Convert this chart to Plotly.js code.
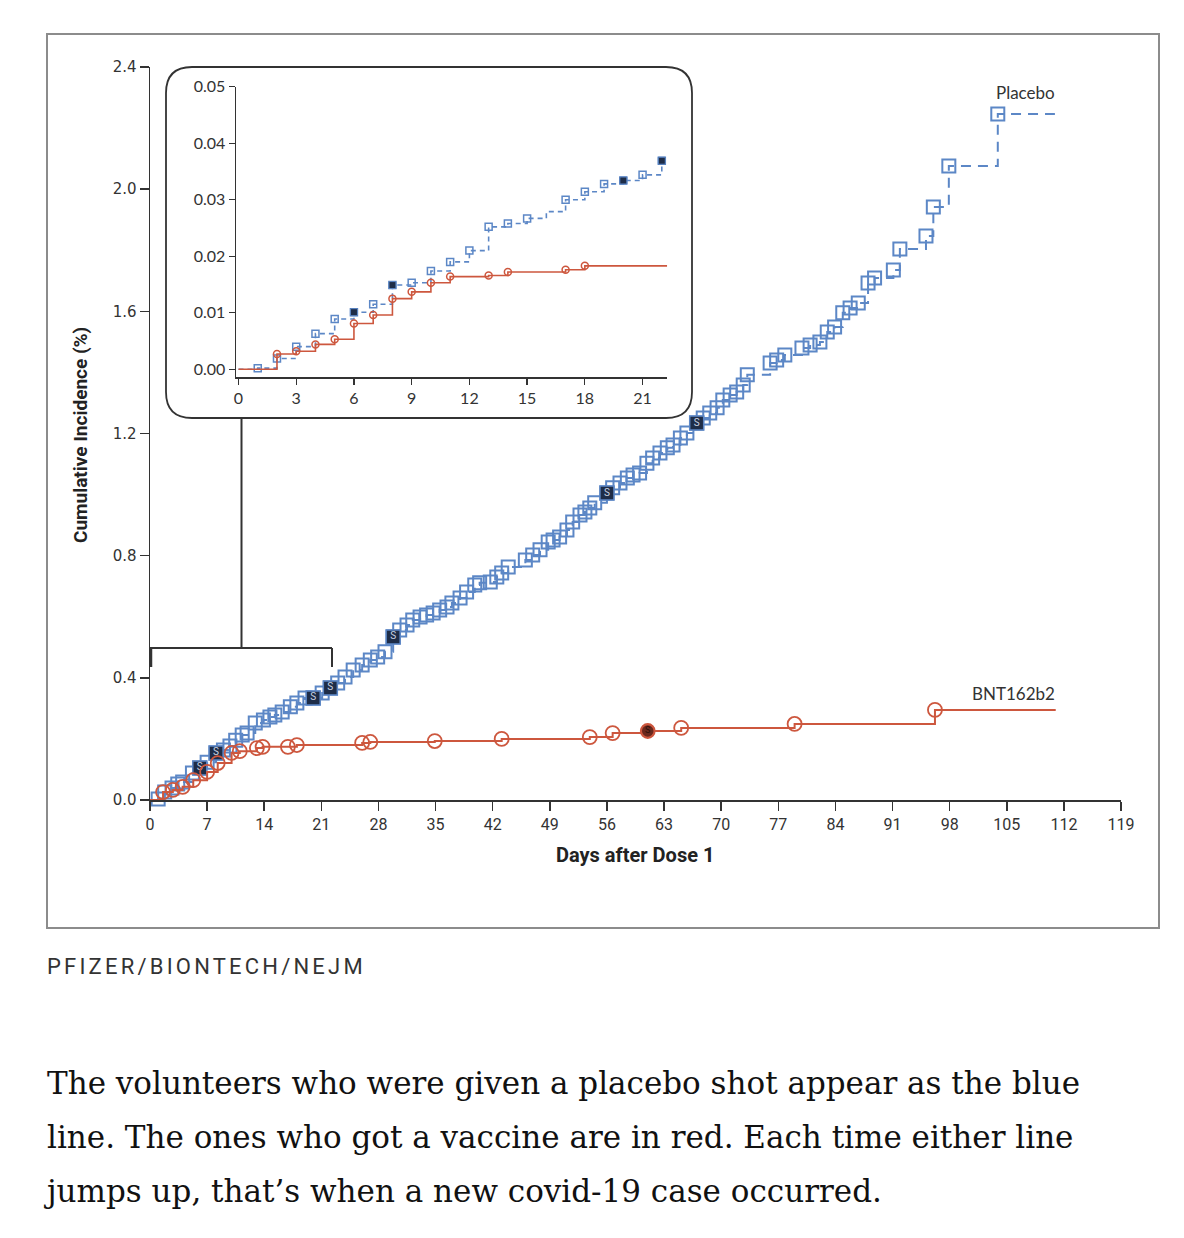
<!DOCTYPE html>
<html><head><meta charset="utf-8">
<script src="https://cdn.plot.ly/plotly-3.0.1.min.js"></script>
<style>
html,body{margin:0;padding:0;background:#fff;}
#wrap{position:relative;width:1184px;height:1238px;overflow:hidden;}
#chart{position:absolute;left:0;top:0;width:1184px;height:1238px;}
.credit{position:absolute;left:47px;top:954px;font-family:Roboto,'Noto Sans',sans-serif;font-size:22px;letter-spacing:3.2px;color:#333;white-space:nowrap;}
.cap{position:absolute;left:47px;font-family:'DejaVu Serif',serif;font-size:31px;color:#111;white-space:nowrap;line-height:40px;}
</style></head>
<body><div id="wrap"><div id="chart"></div>
<div class="credit">PFIZER/BIONTECH/NEJM</div>
<div class="cap" style="top:1063px">The volunteers who were given a placebo shot appear as the blue</div>
<div class="cap" style="top:1117px">line. The ones who got a vaccine are in red. Each time either line</div>
<div class="cap" style="top:1171px">jumps up, that’s when a new covid-19 case occurred.</div>
</div>
<script>
// ---------- DATA ----------
const xTicks = [0,7,14,21,28,35,42,49,56,63,70,77,84,91,98,105,112,119];
const yTicks = [0,0.4,0.8,1.2,1.6,2.0,2.4];
const insetXTicks = [0,3,6,9,12,15,18,21];
const insetYTicks = [0,0.01,0.02,0.03,0.04,0.05];

const placeboDays = [1.0,1.8,2.7,3.4,4.0,5.2,6.1,7.0,8.1,9.0,
  9.8,10.5,11.3,11.9,12.9,13.9,14.7,15.3,16.2,17.2,
  18.0,19.0,20.0,21.1,22.1,23.0,23.9,24.9,26.0,27.0,
  27.9,28.8,29.8,30.6,31.5,32.2,33.1,33.9,34.7,35.5,
  36.4,37.0,38.0,38.8,39.8,40.4,41.7,42.5,43.1,43.9,
  46.0,46.9,47.8,48.8,49.4,50.2,51.1,51.8,52.7,53.3,
  53.9,54.5,56.0,56.7,57.6,58.5,59.2,60.0,60.9,61.6,
  62.5,63.4,64.1,65.0,65.8,67.0,67.8,68.6,69.5,70.2,
  71.1,71.9,72.7,73.2,76.0,76.8,77.8,79.9,80.9,82.1,
  83.0,83.9,84.9,85.8,86.8,88.0,88.8,91.1,91.9,95.1,
  96.0,97.9,103.9];
const placeboVals = [0.003,0.026,0.039,0.052,0.059,0.088,0.105,0.124,0.154,0.164,
  0.177,0.196,0.213,0.219,0.252,0.262,0.272,0.278,0.288,0.305,
  0.318,0.334,0.334,0.350,0.367,0.383,0.403,0.426,0.442,0.458,
  0.468,0.485,0.534,0.557,0.573,0.589,0.599,0.606,0.612,0.622,
  0.632,0.645,0.661,0.681,0.704,0.711,0.714,0.730,0.743,0.763,
  0.786,0.802,0.819,0.845,0.851,0.861,0.884,0.910,0.933,0.943,
  0.956,0.973,1.005,1.022,1.038,1.054,1.064,1.071,1.103,1.120,
  1.136,1.153,1.162,1.185,1.202,1.234,1.251,1.267,1.284,1.310,
  1.326,1.336,1.359,1.392,1.431,1.441,1.457,1.480,1.490,1.500,
  1.532,1.549,1.595,1.611,1.627,1.693,1.709,1.735,1.804,1.847,
  1.942,2.076,2.246];
const placeboSevereDays = [6.1,8.1,20.0,22.1,29.8,56.0,67.0];
const placeboEndDay = 110.9;

const vaccineDays = [1.6,2.8,4.0,5.3,7.0,8.3,10.0,11.0,13.1,13.8,16.9,18.0,26.0,27.0,34.9,43.1,53.9,56.7,61.0,65.1,79.0,96.2];
const vaccineVals = [0.026,0.033,0.043,0.065,0.092,0.121,0.154,0.160,0.170,0.174,0.174,0.180,0.187,0.190,0.193,0.200,0.206,0.219,0.226,0.236,0.249,0.295];
const vaccineSevereDays = [61.0];
const vaccineEndDay = 111.0;

const insetPlaceboDays = [1,2,3,4,5,6,7,8,9,10,11,12,13,14,15,16,17,18,19,20,21,22];
const insetPlaceboVals = [0.0002,0.0019,0.0040,0.0063,0.0089,0.0101,0.0115,0.0149,0.0153,0.0174,0.0190,0.0210,0.0252,0.0258,0.0267,0.0279,0.0300,0.0314,0.0328,0.0334,0.0344,0.0369];
const insetPlaceboUnmarked = [16];
const insetPlaceboSevere = [6,8,20,22];
const insetVaccineDays = [2,3,4,5,6,7,8,9,10,11,13,14,17,18];
const insetVaccineVals = [0.0027,0.0032,0.0044,0.0053,0.0081,0.0096,0.0125,0.0137,0.0153,0.0164,0.0166,0.0172,0.0176,0.0183];
const insetVaccineEndDay = 22.28;

// ---------- STYLE ----------
const BLUE = '#5c87c6', RED = '#cd573e', NAVY = '#1e2d48', DARKRED = '#6a281d', AX = '#333333';
const L = 150, R = 1121, T = 67, B = 800;
const X = p => (p - L) / (R - L);
const Y = p => (B - p) / (B - T);

function pick(days, vals, sel, keep) {
  const xs = [], ys = [];
  days.forEach((d, i) => { if (sel.includes(d) === keep) { xs.push(d); ys.push(vals[i]); } });
  return {xs, ys};
}
function roundRect(x0, y0, x1, y1, r) {
  return `M ${X(x0+r)},${Y(y0)} L ${X(x1-r)},${Y(y0)} Q ${X(x1)},${Y(y0)} ${X(x1)},${Y(y0+r)} ` +
         `L ${X(x1)},${Y(y1-r)} Q ${X(x1)},${Y(y1)} ${X(x1-r)},${Y(y1)} ` +
         `L ${X(x0+r)},${Y(y1)} Q ${X(x0)},${Y(y1)} ${X(x0)},${Y(y1-r)} ` +
         `L ${X(x0)},${Y(y0+r)} Q ${X(x0)},${Y(y0)} ${X(x0+r)},${Y(y0)} Z`;
}

const pSev = pick(placeboDays, placeboVals, placeboSevereDays, true);
const vSev = pick(vaccineDays, vaccineVals, vaccineSevereDays, true);
const ipMark = pick(insetPlaceboDays, insetPlaceboVals, insetPlaceboUnmarked, false);
const ipSev = pick(insetPlaceboDays, insetPlaceboVals, insetPlaceboSevere, true);

const traces = [
  {x:[0, ...placeboDays, placeboEndDay], y:[0, ...placeboVals, placeboVals[placeboVals.length-1]],
   mode:'lines', line:{shape:'hv', color:BLUE, width:2, dash:'10px,7px'}, hoverinfo:'skip'},
  {x:placeboDays, y:placeboVals, mode:'markers', cliponaxis:false,
   marker:{symbol:'square-open', size:13, color:BLUE, line:{width:2, color:BLUE}}},
  {x:pSev.xs, y:pSev.ys, mode:'markers+text', cliponaxis:false, text:pSev.xs.map(()=> 'S'),
   textposition:'middle center', textfont:{family:'Roboto, sans-serif', size:10, color:'#c9d3e3'},
   marker:{symbol:'square', size:14, color:NAVY, line:{width:1.5, color:BLUE}}},
  {x:[0, ...vaccineDays, vaccineEndDay], y:[0, ...vaccineVals, vaccineVals[vaccineVals.length-1]],
   mode:'lines', line:{shape:'hv', color:RED, width:2}, hoverinfo:'skip'},
  {x:vaccineDays, y:vaccineVals, mode:'markers', cliponaxis:false,
   marker:{symbol:'circle-open', size:14, color:RED, line:{width:1.8, color:RED}}},
  {x:vSev.xs, y:vSev.ys, mode:'markers+text', cliponaxis:false, text:vSev.xs.map(()=> 'S'),
   textposition:'middle center', textfont:{family:'Roboto, sans-serif', size:9, color:'#2c100b'},
   marker:{symbol:'circle', size:13, color:DARKRED, line:{width:1.5, color:RED}}},
  {x:[0, ...insetPlaceboDays], y:[0, ...insetPlaceboVals], xaxis:'x2', yaxis:'y2',
   mode:'lines', line:{shape:'hv', color:BLUE, width:1.6, dash:'5px,4px'}},
  {x:ipMark.xs, y:ipMark.ys, xaxis:'x2', yaxis:'y2', mode:'markers', cliponaxis:false,
   marker:{symbol:'square-open', size:7, color:BLUE, line:{width:1.5, color:BLUE}}},
  {x:ipSev.xs, y:ipSev.ys, xaxis:'x2', yaxis:'y2', mode:'markers', cliponaxis:false,
   marker:{symbol:'square', size:7, color:NAVY, line:{width:1, color:BLUE}}},
  {x:[0, ...insetVaccineDays, insetVaccineEndDay], y:[0, ...insetVaccineVals, insetVaccineVals[insetVaccineVals.length-1]],
   xaxis:'x2', yaxis:'y2', mode:'lines', line:{shape:'hv', color:RED, width:1.6}},
  {x:insetVaccineDays, y:insetVaccineVals, xaxis:'x2', yaxis:'y2', mode:'markers', cliponaxis:false,
   marker:{symbol:'circle-open', size:7, color:RED, line:{width:1.5, color:RED}}}
];

const tickFontX = {family:'Roboto, sans-serif', size:16, color:AX};
const tickFontY = {family:'"DejaVu Sans", sans-serif', size:15, color:AX};
const insetFont = {family:'Lato, "Noto Sans", sans-serif', size:16, color:AX};

const layout = {
  width:1184, height:1238, showlegend:false,
  paper_bgcolor:'#ffffff', plot_bgcolor:'rgba(0,0,0,0)',
  margin:{l:L, r:1184-R, t:T, b:1238-B, pad:0},
  xaxis:{range:[0,119], tickvals:xTicks, ticktext:xTicks.map(String), ticks:'outside', ticklen:9, tickwidth:1.5,
    tickcolor:AX, showline:true, linecolor:AX, linewidth:1.5, showgrid:false, zeroline:false, tickfont:tickFontX, fixedrange:true},
  yaxis:{range:[0,2.4], tickvals:yTicks, ticktext:yTicks.map(v=>v.toFixed(1)), ticks:'outside', ticklen:9, tickwidth:1.5,
    tickcolor:AX, showline:true, linecolor:AX, linewidth:1.5, showgrid:false, zeroline:false, tickfont:tickFontY, fixedrange:true},
  xaxis2:{domain:[X(235.8), X(667.2)], anchor:'y2', range:[-0.14, 22.28], tickvals:insetXTicks, ticktext:insetXTicks.map(String),
    ticks:'outside', ticklen:6, tickwidth:1.3, tickcolor:AX, showline:true, linecolor:AX, linewidth:1.3,
    showgrid:false, zeroline:false, tickfont:insetFont},
  yaxis2:{domain:[Y(377.3), Y(86.7)], anchor:'x2', range:[-0.00142, 0.05], tickvals:insetYTicks, ticktext:insetYTicks.map(v=>v.toFixed(2)),
    ticks:'outside', ticklen:6, tickwidth:1.3, tickcolor:AX, showline:true, linecolor:AX, linewidth:1.3,
    showgrid:false, zeroline:false, tickfont:insetFont},
  shapes:[
    {type:'rect', xref:'paper', yref:'paper', x0:X(47), x1:X(1159), y0:Y(928), y1:Y(34), line:{color:'#8c8c8c', width:2}},
    {type:'path', xref:'paper', yref:'paper', path:roundRect(166, 67, 692, 418, 26), line:{color:AX, width:1.8}},
    {type:'line', xref:'paper', yref:'paper', x0:X(241.5), x1:X(241.5), y0:Y(418), y1:Y(648), line:{color:AX, width:2}},
    {type:'line', xref:'paper', yref:'paper', x0:X(150), x1:X(332), y0:Y(648), y1:Y(648), line:{color:AX, width:2}},
    {type:'line', xref:'paper', yref:'paper', x0:X(151), x1:X(151), y0:Y(648), y1:Y(667), line:{color:AX, width:2.5}},
    {type:'line', xref:'paper', yref:'paper', x0:X(332), x1:X(332), y0:Y(648), y1:Y(667), line:{color:AX, width:2}}
  ],
  annotations:[
    {text:'Placebo', xref:'paper', yref:'paper', x:X(1025), y:Y(93), showarrow:false, xanchor:'center', yanchor:'middle',
     font:{family:'Lato, sans-serif', size:17, color:'#333'}},
    {text:'BNT162b2', xref:'paper', yref:'paper', x:X(1013), y:Y(693), showarrow:false, xanchor:'center', yanchor:'middle',
     font:{family:'Lato, sans-serif', size:17, color:'#333'}},
    {text:'Cumulative Incidence (%)', xref:'paper', yref:'paper', x:X(81), y:Y(435), showarrow:false, textangle:-90,
     xanchor:'center', yanchor:'middle', font:{family:'Roboto, sans-serif', size:19, color:'#222', weight:'bold'}},
    {text:'Days after Dose 1', xref:'paper', yref:'paper', x:X(635), y:Y(855), showarrow:false,
     xanchor:'center', yanchor:'middle', font:{family:'Roboto, sans-serif', size:20, color:'#222', weight:'bold'}}
  ]
};

Plotly.newPlot('chart', traces, layout, {staticPlot:true, displayModeBar:false});
</script>
</body></html>
